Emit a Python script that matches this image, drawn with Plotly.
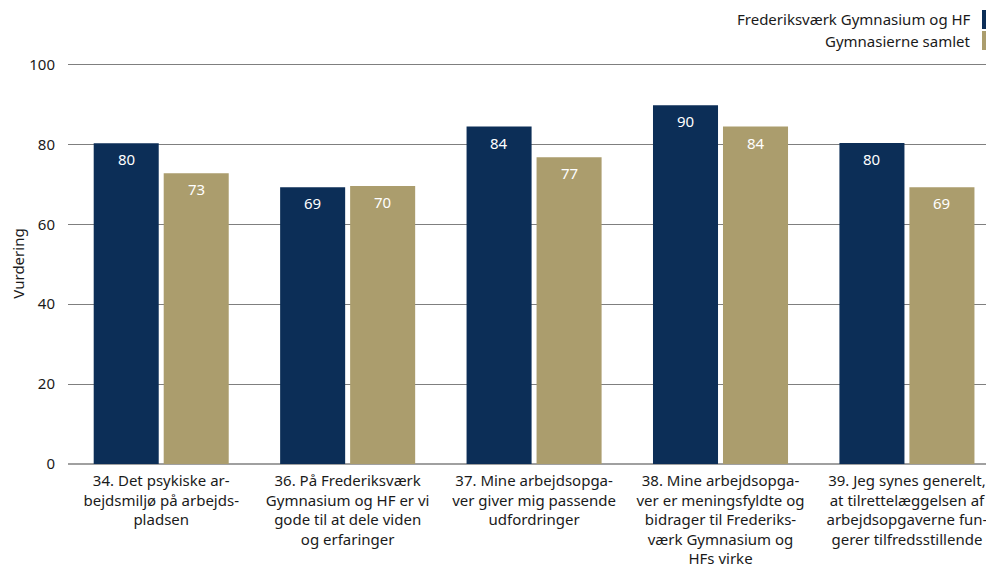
import plotly.graph_objects as go

categories = [
    "34. Det psykiske ar-<br>bejdsmiljø på arbejds-<br>pladsen",
    "36. På Frederiksværk<br>Gymnasium og HF er vi<br>gode til at dele viden<br>og erfaringer",
    "37. Mine arbejdsopga-<br>ver giver mig passende<br>udfordringer",
    "38. Mine arbejdsopga-<br>ver er meningsfyldte og<br>bidrager til Frederiks-<br>værk Gymnasium og<br>HFs virke",
    "39. Jeg synes generelt,<br>at tilrettelæggelsen af<br>arbejdsopgaverne fun-<br>gerer tilfredsstillende",
]
school_name = "Frederiksværk Gymnasium og HF"
school_values = [80.3, 69.3, 84.5, 89.8, 80.4]
all_name = "Gymnasierne samlet"
all_values = [72.8, 69.6, 76.8, 84.5, 69.3]
y_ticks = [0, 20, 40, 60, 80, 100]

NAVY = "#0C2E57"
GOLD = "#AB9D6D"
FONT = "Noto Sans"
TXT = "#1a1a1a"

# page has an 8px body margin; figure sized so its right/bottom edges meet the window
W, H = 986, 563
ML, MR, MT, MB = 60, 0, 55, 107
PW, PH = W - ML - MR, H - MT - MB

fig = go.Figure()
series = [(school_name, school_values, NAVY, -35), (all_name, all_values, GOLD, 35)]
xs = list(range(len(categories)))
for name, vals, col, dx in series:
    fig.add_trace(go.Bar(
        x=xs, y=vals, name=name, marker_color=col,
        marker_line_width=0, showlegend=False, hoverinfo="x+y",
    ))
    for xi, v in zip(xs, vals):
        fig.add_annotation(x=xi, y=v, text=f"{round(v)}", showarrow=False,
                           xshift=dx, yshift=-16, xanchor="center", yanchor="middle",
                           font=dict(color="white", size=15, family=FONT))

fig.update_layout(
    width=W, height=H,
    margin=dict(l=ML, r=MR, t=MT, b=MB, autoexpand=False),
    plot_bgcolor="white", paper_bgcolor="white",
    barmode="group", bargap=0.249, bargroupgap=0.071,
    font=dict(family=FONT, size=15, color=TXT),
    xaxis=dict(
        tickmode="array", tickvals=xs, ticktext=categories,
        range=[-0.5, 4.467], showgrid=False, showline=False, zeroline=False,
        ticks="", tickfont=dict(size=15, color=TXT), ticklabelstandoff=6,
        automargin=False,
    ),
    yaxis=dict(
        range=[0, 100.4], tickvals=y_ticks, showgrid=True, gridcolor="#7f7f7f",
        gridwidth=1, zeroline=True, zerolinecolor="#a0a0a0", zerolinewidth=2,
        showline=False, ticks="", ticklabelstandoff=12, automargin=False,
        title=dict(text="Vurdering", font=dict(size=15, color=TXT), standoff=2),
        tickfont=dict(size=15, color=TXT),
    ),
)

# legend (symbol at right, text right-aligned)
for i, (name, col) in enumerate([(school_name, NAVY), (all_name, GOLD)]):
    top = 2 + i * 21  # figure pixels
    fig.add_shape(type="rect", xref="paper", yref="paper",
                  x0=(974 - ML) / PW, x1=1.0,
                  y0=1 + (MT - top - 19) / PH, y1=1 + (MT - top) / PH,
                  fillcolor=col, line_width=0, layer="above")
    fig.add_annotation(text=name, xref="paper", yref="paper",
                       x=(965 - ML) / PW, y=1 + (MT - top - 9.5) / PH,
                       xanchor="right", yanchor="middle", showarrow=False,
                       font=dict(size=15, color=TXT, family=FONT))

fig.write_html("out.html")
